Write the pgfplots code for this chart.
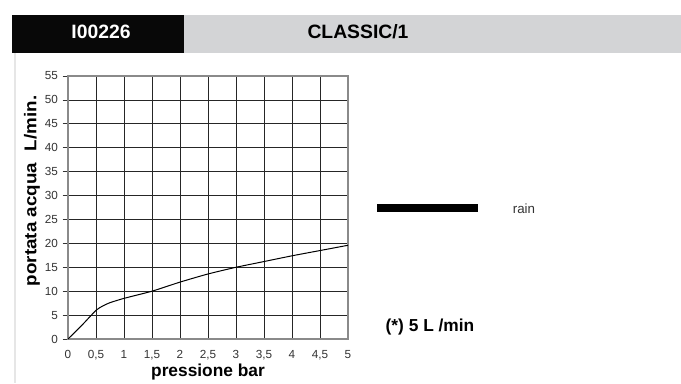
\documentclass[border=0pt]{standalone}
\usepackage{fontspec}
\setmainfont{Liberation Sans}
\newfontfamily\widefont[FakeStretch=1.1]{Liberation Sans}
\usepackage{pgfplots}
\pgfplotsset{compat=1.18}
\definecolor{hdrgray}{HTML}{D3D4D6}
\definecolor{frame}{HTML}{E6E6E6}
\definecolor{boxgray}{HTML}{8A8A8A}
\definecolor{txt}{HTML}{333333}
\begin{document}
\begin{tikzpicture}[x=0.75pt,y=0.75pt]
\path[use as bounding box] (0,0) rectangle (681,383);
\fill[black!97] (12,330) rectangle (184,368);
\fill[hdrgray] (184,330) rectangle (681,368);
\node[white,font=\bfseries\fontsize{14.5}{15}\selectfont] at (101,351) {I00226};
\node[black,font=\bfseries\fontsize{14.5}{15}\selectfont] at (358,351) {CLASSIC/1};
\draw[frame,line width=1.1pt] (15,0) -- (15,330);
\begin{axis}[
  at={(51pt,33pt)}, anchor=south west,
  width=210pt, height=197.25pt, scale only axis,
  xmin=0, xmax=5, ymin=0, ymax=55,
  xtick={0,0.5,...,5},
  xticklabels={0,{0,5},1,{1,5},2,{2,5},3,{3,5},4,{4,5},5},
  ytick={0,5,...,55},
  yticklabels={0,5,10,15,20,25,30,35,40,45,50,55},
  grid=major,
  major grid style={black!85,line width=0.6pt},
  axis line style={boxgray,line width=1pt},
  tick style={black!80,line width=0.6pt},
  x tick style={draw=none},
  major tick length=4pt,
  tick align=outside,
  tick pos=left,
  ticklabel style={font=\fontsize{8.8}{9}\selectfont,text=txt},
  xticklabel style={yshift=-1pt},
  xlabel={\bfseries pressione bar},
  ylabel={\bfseries portata acqua\hspace{0.7em}L/min.},
  xlabel style={font=\fontsize{13}{13}\selectfont,at={(axis description cs:0.5,-0.125)},anchor=center},
  ylabel style={font=\widefont\fontsize{12.8}{13}\selectfont,at={(axis description cs:-0.129,0.563)},anchor=center},
]
\addplot[black,line width=0.75pt,smooth,tension=0.35] coordinates {
(0,0) (0.25,2.9) (0.5,6) (0.62,6.9) (0.75,7.6) (1,8.5) (1.5,10) (2,11.9) (2.5,13.6) (3,15) (3.5,16.2) (4,17.4) (4.5,18.5) (5,19.6)};
\end{axis}
\draw[black,line width=5.5pt] (377,175) -- (478,175);
\node[txt,font=\fontsize{10}{10}\selectfont] at (524,174) {rain};
\node[black,anchor=west,font=\bfseries\fontsize{13}{13}\selectfont] at (381,56) {(*) 5 L /min};
\end{tikzpicture}
\end{document}
